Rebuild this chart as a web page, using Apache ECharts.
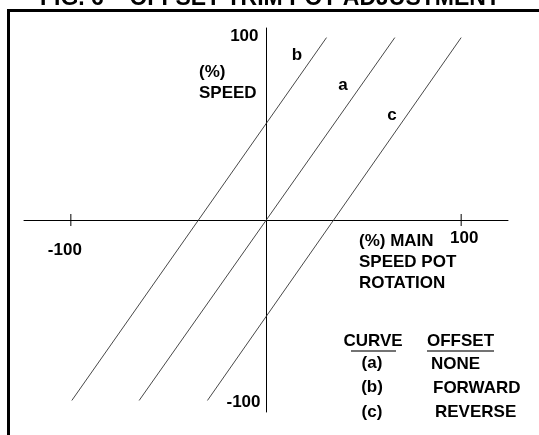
<!DOCTYPE html>
<html>
<head>
<meta charset="utf-8">
<script src="https://cdn.jsdelivr.net/npm/echarts@6/dist/echarts.min.js"></script>
<style>
  html, body { margin: 0; padding: 0; background: #fff; }
  #chart { width: 539px; height: 435px; }
</style>
</head>
<body>
<div id="chart"></div>
<script>
// data (x = % main speed pot rotation, y = % speed)
const curveA = [[-65, -94], [66, 95]];     // no offset
const curveB = [[-99.5, -94], [31, 95]];   // forward offset
const curveC = [[-30, -94], [100, 95]];    // reverse offset
const xTickValues = [-100, 100];
const yTickValues = [-100, 100];

const FONT = "'Liberation Sans', Arial, sans-serif";
const chart = echarts.init(document.getElementById('chart'));

// plain bold text helper for the annotations
function txt(x, y, s, align) {
  return {
    type: 'text', x: x, y: y,
    style: {
      text: s, fill: '#000', font: 'bold 17px ' + FONT,
      textAlign: align || 'left', textVerticalAlign: 'middle'
    }
  };
}
function uline(x1, x2, y) {
  return {
    type: 'line',
    shape: { x1: x1, y1: y, x2: x2, y2: y },
    style: { stroke: '#444', lineWidth: 1.5 }
  };
}

const lineStyle = { color: '#333', width: 0.9 };
const labelFont = { color: '#000', fontSize: 17, fontWeight: 'bold', fontFamily: FONT };

chart.setOption({
  animation: false,
  backgroundColor: '#fff',
  grid: { left: 24, width: 484, top: 28, height: 384, containLabel: false, outerBoundsMode: 'none' },
  xAxis: {
    type: 'value', min: -124, max: 124,
    splitLine: { show: false },
    axisTick: { show: false },
    axisLabel: { show: false },
    axisLine: { onZero: true, lineStyle: { color: '#000', width: 1 } }
  },
  yAxis: {
    type: 'value', min: -100, max: 100,
    splitLine: { show: false },
    axisTick: { show: false },
    axisLabel: { show: false },
    axisLine: { onZero: true, lineStyle: { color: '#000', width: 1 } }
  },
  series: [
    { name: 'a', type: 'line', data: curveA, symbol: 'none', lineStyle: lineStyle },
    { name: 'b', type: 'line', data: curveB, symbol: 'none', lineStyle: lineStyle },
    { name: 'c', type: 'line', data: curveC, symbol: 'none', lineStyle: lineStyle },
    {
      // tick marks crossing the x axis, with their labels
      type: 'scatter', symbol: 'rect', symbolSize: [1, 12],
      itemStyle: { color: '#000', opacity: 1 },
      label: { show: true, position: 'bottom', ...labelFont, formatter: p => p.value[0] },
      data: xTickValues.map(v => ({
        value: [v, 0],
        label: { offset: v < 0 ? [-6, 11] : [3, -1] }
      }))
    },
    {
      // y axis end labels
      type: 'scatter', symbol: 'circle', symbolSize: 1,
      itemStyle: { color: 'rgba(0,0,0,0)', opacity: 1 },
      label: { show: true, position: 'left', distance: 7, ...labelFont, formatter: p => p.value[1] },
      data: yTickValues.map(v => ({
        value: [0, v],
        label: { offset: v > 0 ? [0, 8] : [2, -10] }
      }))
    }
  ],
  graphic: [
    {
      type: 'text', x: 270, y: 10,
      style: {
        text: 'FIG. 6 – OFFSET TRIM POT ADJUSTMENT', fill: '#000',
        font: 'bold 23px ' + FONT, textAlign: 'center', textVerticalAlign: 'bottom'
      }
    },
    {
      type: 'polyline',
      shape: { points: [[8.5, 440], [8.5, 10.5], [545, 10.5]] },
      style: { stroke: '#000', lineWidth: 3, fill: null }
    },
    txt(199, 72, '(%)'),
    txt(199, 93, 'SPEED'),
    txt(297, 55, 'b', 'center'),
    txt(343, 85, 'a', 'center'),
    txt(392, 115, 'c', 'center'),
    txt(359, 241, '(%) MAIN'),
    txt(359, 262, 'SPEED POT'),
    txt(359, 283, 'ROTATION'),
    txt(373, 341, 'CURVE', 'center'),
    txt(427, 341, 'OFFSET'),
    uline(351, 396, 351),
    uline(427, 494, 351),
    txt(372, 363, '(a)', 'center'),
    txt(431, 364, 'NONE'),
    txt(372, 387, '(b)', 'center'),
    txt(433, 388, 'FORWARD'),
    txt(372, 412, '(c)', 'center'),
    txt(435, 412, 'REVERSE')
  ]
});
</script>
</body>
</html>
